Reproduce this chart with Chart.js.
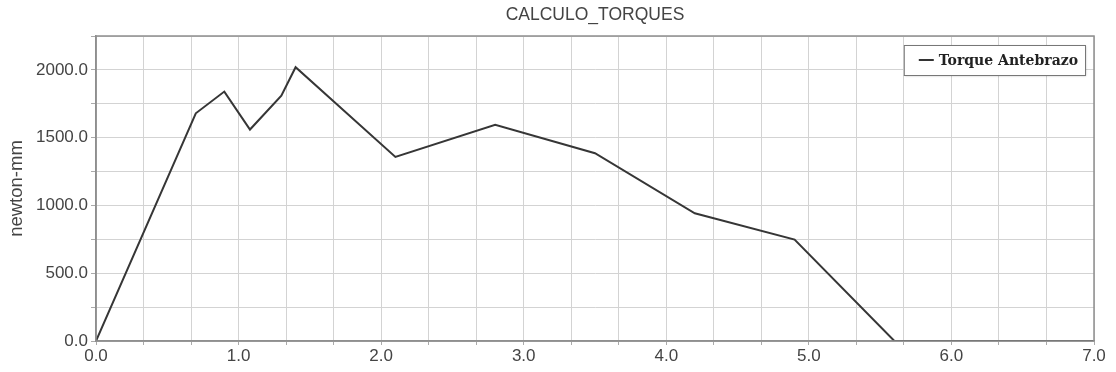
<!DOCTYPE html>
<html><head><meta charset="utf-8">
<script src="https://cdn.jsdelivr.net/npm/chart.js@4"></script>
<style>html,body{margin:0;padding:0;background:#fff}#wrap{width:1116px;height:372px;position:relative}</style>
</head><body><div id="wrap"><canvas id="c" width="1116" height="372"></canvas></div>
<script>
const chartTitle = 'CALCULO_TORQUES';
const seriesLabel = 'Torque Antebrazo';
const yAxisTitle = 'newton-mm';
const timeValues = [0, 0.7, 0.9, 1.08, 1.3, 1.4, 2.1, 2.8, 3.5, 4.2, 4.9, 5.6, 7.0];
const torqueValues = [0, 1680, 1840, 1560, 1810, 2020, 1358, 1595, 1385, 942, 748, 0, 0];
const xTickLabels = ['0.0', '1.0', '2.0', '3.0', '4.0', '5.0', '6.0', '7.0'];
const yTickLabels = ['0.0', '500.0', '1000.0', '1500.0', '2000.0'];

const points = timeValues.map((t, i) => ({ x: t, y: torqueValues[i] }));

const frameTitleLegend = {
  id: 'frameTitleLegend',
  afterDraw(chart) {
    const { ctx, chartArea: a } = chart;
    ctx.save();
    ctx.strokeStyle = '#8f8f8f';
    ctx.lineWidth = 1.5;
    ctx.strokeRect(a.left, a.top, a.right - a.left, a.bottom - a.top);
    // title centred over the plot area
    ctx.fillStyle = '#444';
    ctx.font = '17.5px "Liberation Sans", Arial, sans-serif';
    ctx.textAlign = 'center';
    ctx.textBaseline = 'middle';
    ctx.fillText(chartTitle, (a.left + a.right) / 2, 15);
    // legend box
    const label = chart.data.datasets[0].label;
    ctx.textAlign = 'left';
    ctx.font = 'bold 14px "DejaVu Serif"';
    const tw = ctx.measureText(label).width;
    const bx2 = a.right - 9, by1 = a.top + 9, bh = 30;
    const bx1 = bx2 - (tw + 42);
    ctx.shadowColor = 'rgba(0,0,0,0.25)';
    ctx.shadowOffsetX = 1; ctx.shadowOffsetY = 1; ctx.shadowBlur = 2;
    ctx.fillStyle = '#fff';
    ctx.fillRect(bx1, by1, bx2 - bx1, bh);
    ctx.shadowColor = 'transparent';
    ctx.strokeStyle = '#777';
    ctx.lineWidth = 1;
    ctx.strokeRect(bx1 + 0.5, by1 + 0.5, bx2 - bx1, bh);
    const cy = by1 + bh / 2;
    ctx.strokeStyle = '#333';
    ctx.lineWidth = 2;
    ctx.beginPath(); ctx.moveTo(bx1 + 15, cy); ctx.lineTo(bx1 + 30, cy); ctx.stroke();
    ctx.fillStyle = '#222';
    ctx.textBaseline = 'middle';
    ctx.fillText(label, bx1 + 35, cy + 1);
    ctx.restore();
  }
};

new Chart(document.getElementById('c'), {
  type: 'line',
  data: {
    datasets: [{
      label: seriesLabel,
      data: points,
      borderColor: '#363636',
      borderWidth: 2,
      pointRadius: 0,
      fill: false,
      tension: 0
    }]
  },
  options: {
    responsive: false,
    animation: false,
    devicePixelRatio: 1,
    layout: { padding: { left: 0, right: 22, top: 36, bottom: 0 } },
    plugins: {
      legend: { display: false },
      tooltip: { enabled: false },
      title: { display: false }
    },
    scales: {
      x: {
        type: 'linear',
        min: 0, max: 7,
        afterBuildTicks: s => { const t = []; for (let i = 0; i <= 21; i++) t.push({ value: i / 3 }); s.ticks = t; },
        ticks: {
          autoSkip: false, maxRotation: 0, minRotation: 0,
          color: '#444',
          padding: 1,
          font: { family: '"Liberation Sans", Arial, sans-serif', size: 17 },
          callback: v => { const r = Math.round(v); return Math.abs(v - r) < 1e-6 ? xTickLabels[r] : ''; }
        },
        grid: { color: '#d3d3d3', lineWidth: 1, tickLength: 4, tickColor: '#aaa' },
        border: { color: '#8f8f8f', width: 1.5 },
        afterFit: s => { s.height = 31; }
      },
      y: {
        min: 0, max: 2250,
        afterBuildTicks: s => { const t = []; for (let i = 0; i <= 9; i++) t.push({ value: i * 250 }); s.ticks = t; },
        ticks: {
          autoSkip: false,
          color: '#444',
          padding: 3,
          font: { family: '"Liberation Sans", Arial, sans-serif', size: 17 },
          callback: v => (v % 500 === 0 ? yTickLabels[v / 500] : '')
        },
        grid: { color: '#d3d3d3', lineWidth: 1, tickLength: 5, tickColor: '#aaa' },
        border: { color: '#8f8f8f', width: 1.5 },
        title: {
          display: true,
          text: yAxisTitle,
          color: '#444',
          font: { family: '"Liberation Sans", Arial, sans-serif', size: 18.5 },
          padding: { top: 6, bottom: 0 }
        },
        afterFit: s => { s.width = 96; }
      }
    }
  },
  plugins: [frameTitleLegend]
});
</script>
</body></html>
